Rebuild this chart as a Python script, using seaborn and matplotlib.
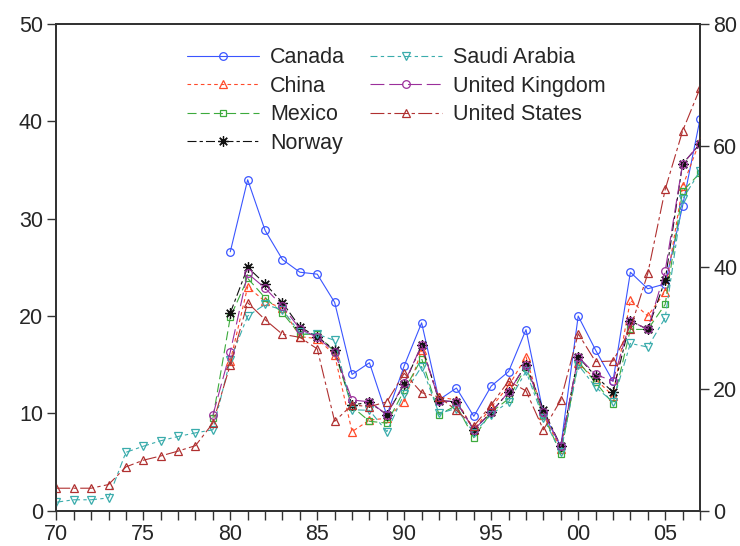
import matplotlib
matplotlib.use("Agg")
import matplotlib.pyplot as plt
import seaborn as sns

# x categories
years_long = list(range(1970, 2008))  # Saudi Arabia, United States
years_79 = list(range(1979, 2008))    # Mexico, United Kingdom
years_80 = list(range(1980, 2008))    # Canada, China, Norway

# left scale (0-50)
canada = [26.6, 34.0, 28.8, 25.8, 24.5, 24.3, 21.4, 14.0, 15.2, 9.8,
          14.9, 19.3, 11.4, 12.6, 9.7, 12.8, 14.3, 18.6, 10.0, 6.6,
          20.0, 16.5, 13.3, 24.5, 22.8, 23.3, 31.3, 40.2]

# right scale (0-80)
china = [24.6, 36.8, 34.4, 33.3, 28.6, 28.3, 25.6, 13.0, 14.9, 15.2,
         17.9, 26.4, 18.7, 18.2, 13.3, 17.0, 20.5, 25.3, 15.7, 10.1,
         24.3, 21.6, 18.9, 34.6, 32.0, 36.0, 53.3, 60.8]
mexico = [15.2, 31.8, 38.2, 35.0, 32.5, 29.0, 29.0, 26.1, 17.1, 14.7,
          14.4, 19.8, 25.0, 15.8, 17.3, 12.0, 16.2, 18.4, 23.7, 15.7,
          9.4, 24.5, 21.1, 17.6, 29.8, 29.8, 33.9, 52.5, 55.5]
norway = [32.5, 40.0, 37.3, 34.2, 30.2, 28.6, 26.4, 17.4, 17.8, 15.8,
          20.8, 27.2, 18.1, 17.9, 13.3, 16.2, 19.5, 24.0, 16.6, 10.6,
          25.3, 22.1, 19.5, 31.2, 29.8, 37.9, 57.0, 60.3]
saudi = [1.4, 1.8, 1.8, 2.1, 9.6, 10.6, 11.5, 12.2, 12.8, 13.3,
         24.8, 32.0, 33.9, 33.0, 29.3, 29.0, 28.0, 16.6, 16.5, 13.0,
         19.2, 23.7, 16.0, 16.8, 12.8, 15.8, 17.9, 22.9, 15.2, 9.6,
         24.0, 20.3, 17.9, 27.5, 26.9, 31.7, 51.2, 55.8]
uk = [15.7, 26.1, 39.0, 36.6, 33.6, 29.9, 28.5, 26.1, 18.2, 17.9,
      15.8, 21.0, 27.2, 18.1, 17.9, 13.3, 16.2, 19.5, 24.0, 16.2,
      10.6, 25.3, 22.4, 21.3, 31.2, 29.8, 39.4, 57.0, 60.3]
us = [3.7, 3.7, 3.7, 4.3, 7.2, 8.3, 9.0, 9.8, 10.7, 14.4,
      24.0, 34.2, 31.4, 29.0, 28.5, 26.6, 14.7, 17.4, 17.1, 17.9,
      22.6, 19.4, 18.7, 16.5, 13.9, 17.4, 21.3, 19.7, 13.3, 18.2,
      29.1, 24.5, 24.6, 29.9, 39.0, 52.8, 62.4, 69.4]

left_ticks = [0, 10, 20, 30, 40, 50]
right_ticks = [0, 20, 40, 60, 80]
x_ticks = [1970, 1975, 1980, 1985, 1990, 1995, 2000, 2005]
x_labels = ["70", "75", "80", "85", "90", "95", "00", "05"]

sns.set_style("ticks")
plt.rcParams["font.family"] = ["Liberation Sans", "DejaVu Sans"]
plt.rcParams["lines.scale_dashes"] = False

fig = plt.figure(figsize=(7.4, 5.46), dpi=100)
ax = fig.add_axes([0.0761, 0.0646, 0.8698, 0.8915])
ax2 = ax.twinx()

# (label, years, values, axis, color, linestyle, marker, size)
series = [
    ("Canada", years_80, canada, ax, "#3a55ff", "-", "o", 5.5),
    ("China", years_80, china, ax2, "#ff4a2a", (0, (2.6, 2.2)), "^", 6),
    ("Mexico", years_79, mexico, ax2, "#3caa3c", (0, (6.5, 3)), "s", 5),
    ("Norway", years_80, norway, ax2, "#111111", (0, (6.5, 2.2, 2.4, 2.2)), (8, 2, 0), 7.5),
    ("Saudi Arabia", years_long, saudi, ax2, "#3aacac", (0, (5, 2.4, 2.4, 2.4)), "v", 6),
    ("United Kingdom", years_79, uk, ax2, "#9b2f9b", (0, (10, 3.5)), "o", 5.5),
    ("United States", years_long, us, ax2, "#b03030", (0, (10, 2.4, 2.4, 2.4)), "^", 6),
]

handles = []
for label, yrs, vals, target, color, ls, mk, ms in series:
    sns.lineplot(x=yrs, y=vals, ax=target, color=color, linestyle=ls,
                 linewidth=0.8, marker=mk, markersize=ms,
                 markerfacecolor="none", markeredgecolor=color,
                 markeredgewidth=0.9)
    line = target.lines[-1]
    line.set_label(label)
    handles.append(line)

ax.set_xlim(1970, 2007)
ax.set_ylim(0, 50)
ax2.set_ylim(0, 80)
ax.set_xticks(x_ticks)
ax.set_xticklabels(x_labels)
ax.set_xticks(list(range(1970, 2008)), minor=True)
ax.set_yticks(left_ticks)
ax2.set_yticks(right_ticks)
ax.set_xlabel("")
ax.set_ylabel("")
ax2.set_ylabel("")

for a in (ax, ax2):
    for sp in a.spines.values():
        sp.set_visible(True)
        sp.set_color("#333333")
        sp.set_linewidth(1.3)
    a.tick_params(axis="both", which="both", direction="out", length=6.5,
                  width=1.0, color="#333333", labelsize=15.5, pad=3)
ax.tick_params(axis="y", which="minor", left=False)

ax2.legend(handles, [h.get_label() for h in handles], ncol=2,
           loc="upper left", bbox_to_anchor=(0.203, 0.952), frameon=False,
           fontsize=15.5, handlelength=3.35, handletextpad=0.5,
           columnspacing=1.17, labelspacing=0.35, borderpad=0,
           borderaxespad=0, numpoints=1)

fig.savefig("out.png", dpi=100, facecolor="white")
